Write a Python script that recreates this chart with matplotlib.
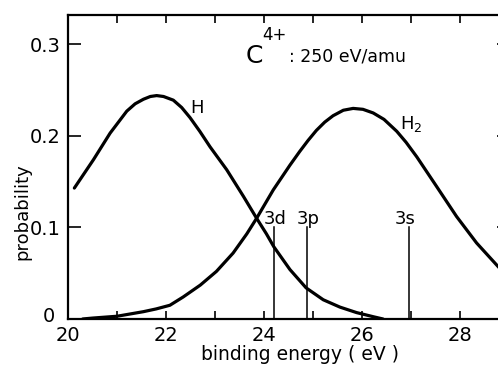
import matplotlib
matplotlib.use("Agg")
import matplotlib.pyplot as plt
import matplotlib.transforms as mtransforms
from matplotlib.ticker import MultipleLocator

# capture probability vs. binding energy, C4+ at 250 eV/amu
energie_h = [20.13, 20.52, 20.86, 21.20, 21.37, 21.54, 21.68, 21.81, 21.95, 22.15,
             22.32, 22.49, 22.69, 22.90, 23.24, 23.58, 23.85, 24.05, 24.20, 24.53,
             24.86, 25.21, 25.55, 25.89, 26.23, 26.43]
proba_h = [0.143, 0.174, 0.203, 0.227, 0.235, 0.240, 0.243, 0.244, 0.243, 0.239,
           0.231, 0.220, 0.205, 0.188, 0.163, 0.134, 0.110, 0.093, 0.079, 0.054,
           0.034, 0.021, 0.013, 0.007, 0.0025, 0.0]

energie_h2 = [20.30, 20.50, 21.00, 21.54, 21.80, 22.08, 22.20, 22.35, 22.70, 23.03,
              23.37, 23.65, 23.85, 24.19, 24.53, 24.73, 24.90, 25.07, 25.24, 25.41,
              25.62, 25.82, 26.02, 26.23, 26.45, 26.71, 26.90, 27.12, 27.52, 27.93,
              28.34, 28.80]
proba_h2 = [0.000, 0.001, 0.003, 0.008, 0.011, 0.015, 0.019, 0.024, 0.037, 0.052,
            0.072, 0.093, 0.110, 0.141, 0.168, 0.183, 0.195, 0.206, 0.215, 0.222,
            0.228, 0.230, 0.229, 0.225, 0.218, 0.205, 0.193, 0.177, 0.145, 0.112,
            0.083, 0.056]

# C3+(n=3) levels
niveaux = ['3d', '3p', '3s']
energie_niveaux = [24.20, 24.87, 26.95]
hauteur_niveaux = 0.101

fig = plt.figure(figsize=(4.98, 3.67), dpi=100)
ax = fig.add_axes([0.1365, 0.1308, 0.8855, 0.8283])

ax.plot(energie_h, proba_h, c='black', lw=2.3, solid_capstyle='round')
ax.plot(energie_h2, proba_h2, c='black', lw=2.3, solid_capstyle='round')

for nom, e in zip(niveaux, energie_niveaux):
    ax.plot([e, e], [0, hauteur_niveaux], c='black', lw=1.1)

ax.text(24.22, 0.104, '3d', fontsize=13, ha='center', va='baseline')
ax.text(24.90, 0.104, '3p', fontsize=13, ha='center', va='baseline')
ax.text(26.88, 0.104, '3s', fontsize=13, ha='center', va='baseline')

ax.text(22.49, 0.225, 'H', fontsize=13, va='baseline')
ax.text(26.78, 0.207, 'H$_2$', fontsize=13, va='baseline')

ax.text(23.62, 0.280, 'C', fontsize=18, va='baseline')
ax.text(23.97, 0.305, '4+', fontsize=12, va='baseline')
ax.text(24.52, 0.281, ': 250 eV/amu', fontsize=12.5, va='baseline')

ax.set_xlim(20, 29)
ax.set_ylim(0, 0.332)
ax.set_xticks([20, 22, 24, 26, 28])
ax.xaxis.set_minor_locator(MultipleLocator(1))
ax.set_yticks([0, 0.1, 0.2, 0.3])
ax.set_yticklabels(['0', '0.1', '0.2', '0.3'])

ax.tick_params(axis='x', which='both', direction='in', top=True, length=6, width=1.2,
               labelsize=14, pad=5)
ax.tick_params(axis='y', direction='in', right=True, length=9, width=1.2,
               labelsize=14, pad=5)
for s in ax.spines.values():
    s.set_linewidth(1.6)

# nudge the "0" label left and up, clear of the "20"
decalage = mtransforms.ScaledTranslation(-4 / 72, 3 / 72, fig.dpi_scale_trans)
zero = ax.get_yticklabels()[0]
zero.set_transform(zero.get_transform() + decalage)

fig.text(300 / 498, 1 - 354 / 367, 'binding energy ( eV )', fontsize=13.5,
         ha='center', va='center')
fig.text(22 / 498, 1 - 212 / 367, 'probability', fontsize=13, rotation=90,
         ha='center', va='center')

fig.savefig('out.png', dpi=100)
